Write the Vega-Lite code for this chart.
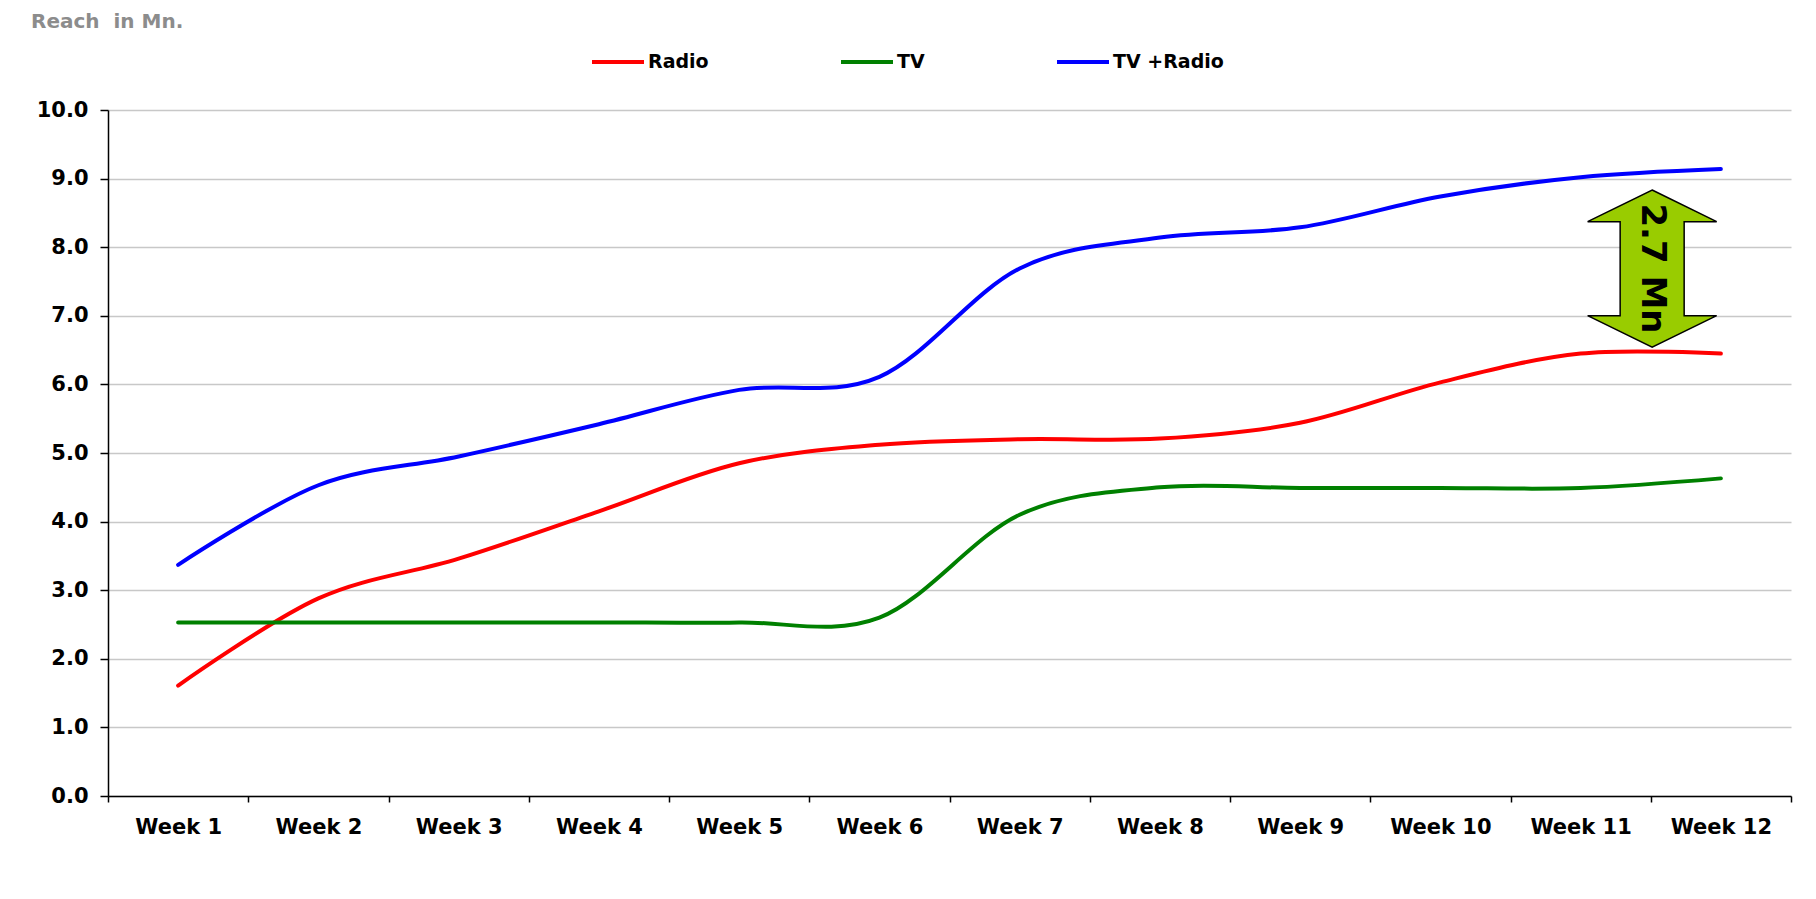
{
  "$schema": "https://vega.github.io/schema/vega-lite/v6.json",
  "width": 1683,
  "height": 686,
  "autosize": "none",
  "padding": {"left": 108, "top": 110, "right": 25, "bottom": 103},
  "background": "white",
  "title": {
    "text": "Reach \u00a0in Mn.",
    "anchor": "start",
    "frame": "group",
    "dx": -77,
    "offset": -14,
    "baseline": "alphabetic",
    "font": "DejaVu Sans",
    "fontSize": 20,
    "fontWeight": "bold",
    "color": "#8c8c8c"
  },
  "config": {
    "view": {"stroke": null},
    "axis": {
      "labelFont": "DejaVu Sans",
      "labelFontWeight": "bold",
      "labelFontSize": 21,
      "labelColor": "black",
      "domainColor": "black",
      "domainWidth": 1.5,
      "tickColor": "black",
      "tickWidth": 1.5,
      "title": null
    }
  },
  "datasets": {
    "reach": [
      {"week": "Week 1", "series": "Radio", "reach": 1.61},
      {"week": "Week 2", "series": "Radio", "reach": 2.88},
      {"week": "Week 3", "series": "Radio", "reach": 3.46},
      {"week": "Week 4", "series": "Radio", "reach": 4.15},
      {"week": "Week 5", "series": "Radio", "reach": 4.85},
      {"week": "Week 6", "series": "Radio", "reach": 5.12},
      {"week": "Week 7", "series": "Radio", "reach": 5.2},
      {"week": "Week 8", "series": "Radio", "reach": 5.21},
      {"week": "Week 9", "series": "Radio", "reach": 5.44},
      {"week": "Week 10", "series": "Radio", "reach": 6.03},
      {"week": "Week 11", "series": "Radio", "reach": 6.45},
      {"week": "Week 12", "series": "Radio", "reach": 6.45},
      {"week": "Week 1", "series": "TV", "reach": 2.53},
      {"week": "Week 2", "series": "TV", "reach": 2.53},
      {"week": "Week 3", "series": "TV", "reach": 2.53},
      {"week": "Week 4", "series": "TV", "reach": 2.53},
      {"week": "Week 5", "series": "TV", "reach": 2.53},
      {"week": "Week 6", "series": "TV", "reach": 2.6},
      {"week": "Week 7", "series": "TV", "reach": 4.1},
      {"week": "Week 8", "series": "TV", "reach": 4.5},
      {"week": "Week 9", "series": "TV", "reach": 4.49},
      {"week": "Week 10", "series": "TV", "reach": 4.49},
      {"week": "Week 11", "series": "TV", "reach": 4.49},
      {"week": "Week 12", "series": "TV", "reach": 4.63},
      {"week": "Week 1", "series": "TV +Radio", "reach": 3.37},
      {"week": "Week 2", "series": "TV +Radio", "reach": 4.53},
      {"week": "Week 3", "series": "TV +Radio", "reach": 4.95},
      {"week": "Week 4", "series": "TV +Radio", "reach": 5.42},
      {"week": "Week 5", "series": "TV +Radio", "reach": 5.92},
      {"week": "Week 6", "series": "TV +Radio", "reach": 6.11},
      {"week": "Week 7", "series": "TV +Radio", "reach": 7.69},
      {"week": "Week 8", "series": "TV +Radio", "reach": 8.14},
      {"week": "Week 9", "series": "TV +Radio", "reach": 8.29},
      {"week": "Week 10", "series": "TV +Radio", "reach": 8.74},
      {"week": "Week 11", "series": "TV +Radio", "reach": 9.02},
      {"week": "Week 12", "series": "TV +Radio", "reach": 9.14}
    ],
    "note": [
      {"pos": 11.51, "reach": 7.69, "label": "2.7 Mn"}
    ]
  },
  "layer": [
    {
      "data": {"name": "reach"},
      "mark": {"type": "line", "interpolate": "cardinal", "tension": 0, "strokeWidth": 4, "strokeCap": "round"},
      "encoding": {
        "x": {
          "field": "week",
          "type": "ordinal",
          "sort": null,
          "bandPosition": 0.5,
          "scale": {
            "type": "band",
            "paddingInner": 0,
            "paddingOuter": 0,
            "domain": ["Week 1", "Week 2", "Week 3", "Week 4", "Week 5", "Week 6", "Week 7", "Week 8", "Week 9", "Week 10", "Week 11", "Week 12"]
          },
          "axis": {
            "labelAngle": 0,
            "tickBand": "extent",
            "tickSize": 6,
            "labelPadding": 14,
            "grid": false
          }
        },
        "y": {
          "field": "reach",
          "type": "quantitative",
          "scale": {"domain": [0, 10], "nice": false},
          "axis": {
            "values": [0, 1, 2, 3, 4, 5, 6, 7, 8, 9, 10],
            "format": ".1f",
            "grid": true,
            "gridColor": "#c8c8c8",
            "gridWidth": 1.5,
            "tickSize": 8,
            "labelPadding": 12
          }
        },
        "color": {
          "field": "series",
          "type": "nominal",
          "scale": {"domain": ["Radio", "TV", "TV +Radio"], "range": ["#ff0000", "#008000", "#0000ff"]},
          "legend": {
            "title": null,
            "orient": "none",
            "direction": "horizontal",
            "columns": 3,
            "legendX": 482,
            "legendY": -76,
            "padding": 0,
            "symbolType": "stroke",
            "symbolSize": 2704,
            "symbolStrokeWidth": 4,
            "labelFont": "DejaVu Sans",
            "labelFontWeight": "bold",
            "labelFontSize": 19,
            "labelColor": "black",
            "labelOffset": 2,
            "columnPadding": 124
          }
        }
      }
    },
    {
      "data": {"name": "note"},
      "mark": {
        "type": "point",
        "filled": true,
        "fill": "#99cc00",
        "stroke": "black",
        "strokeWidth": 1.5,
        "opacity": 1,
        "size": 40000,
        "shape": "M0,-0.785 L0.645,-0.468 L0.32,-0.468 L0.32,0.472 L0.645,0.472 L0,0.788 L-0.645,0.472 L-0.32,0.472 L-0.32,-0.468 L-0.645,-0.468 Z"
      },
      "encoding": {
        "x": {"field": "pos", "type": "quantitative", "scale": {"domain": [0.5, 12.5]}, "axis": null},
        "y": {"field": "reach", "type": "quantitative"}
      }
    },
    {
      "data": {"name": "note"},
      "mark": {
        "type": "text",
        "angle": 90,
        "align": "center",
        "baseline": "middle",
        "font": "DejaVu Sans",
        "fontWeight": "bold",
        "fontSize": 34,
        "color": "black"
      },
      "encoding": {
        "x": {"field": "pos", "type": "quantitative", "scale": {"domain": [0.5, 12.5]}, "axis": null},
        "y": {"field": "reach", "type": "quantitative"},
        "text": {"field": "label"}
      }
    }
  ],
  "resolve": {"scale": {"x": "independent"}, "axis": {"x": "independent"}}
}
